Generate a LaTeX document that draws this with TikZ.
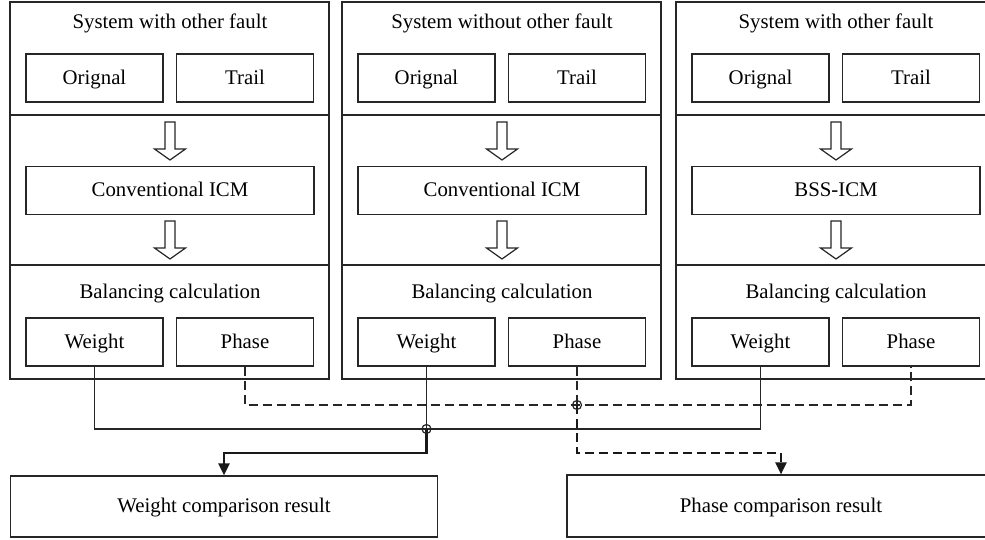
\documentclass[tikz,border=0pt]{standalone}
\usepackage{fontspec}
\setmainfont{Liberation Serif}
\usetikzlibrary{arrows.meta, positioning}

\tikzset{
  hollowdown/.pic = {
    \draw[line width=0.6pt, draw=black!85, fill=white]
      (-5,0) -- (-5,27) -- (-15.5,27) -- (0,38) -- (15.5,27) -- (5,27) -- (5,0) -- cycle;
  }
}

\begin{document}
\begin{tikzpicture}[
  x=0.5pt, y=-0.5pt,
  font=\fontsize{10.4}{12}\selectfont,
  frame/.style = {draw=black!85, line width=0.7pt},
  box/.style = {rectangle, draw=black!85, line width=0.6pt,
                minimum width=68.5pt, minimum height=24pt, inner sep=0pt,
                text height=8pt, text depth=1.6pt},
  heading/.style = {inner sep=0pt, text height=8pt, text depth=1.6pt},
  wire/.style = {draw=black!85, line width=0.6pt},
  dashwire/.style = {wire, dash pattern=on 4.5pt off 2.5pt},
  junction/.style = {circle, draw=black!85, line width=0.6pt,
                     inner sep=0pt, minimum size=4.5pt},
  result/.style = {draw=black!90, line width=1.1pt,
                   -{Triangle[length=6pt, width=5.5pt]}},
  dashresult/.style = {result, dash pattern=on 4.5pt off 2.5pt},
]
\useasboundingbox (0,0) rectangle (985,540);
\clip (0,0) rectangle (985,540);

% three test systems
\foreach \L/\n/\title/\method in {10/A/System with other fault/Conventional ICM,
                                  342/B/System without other fault/Conventional ICM,
                                  676/C/System with other fault/BSS-ICM}{
  \draw[frame] (\L,2) rectangle (\L+319,379);
  \draw[frame] (\L,115) -- (\L+319,115);
  \draw[frame] (\L,265) -- (\L+319,265);
  \node[heading] (title\n) at (\L+160,22) {\title};
  \node[box] (org\n)   at (\L+84.5,78) {Orignal};
  \node[box] (trail\n) at (\L+235,78)  {Trail};
  \pic at (\L+160,122) {hollowdown};
  \node[box, minimum width=144pt] (icm\n) at (\L+160,190.5) {\method};
  \pic at (\L+160,221) {hollowdown};
  \node[heading] (bal\n) at (\L+160,292) {Balancing calculation};
  \node[box] (weight\n) at (\L+84.5,342) {Weight};
  \node[box] (phase\n)  at (\L+235,342)  {Phase};
}

% comparison results
\node[box, minimum width=213.5pt, minimum height=30.5pt] (wres) at (224,506.5) {Weight comparison result};
\node[box, minimum width=214pt, minimum height=31pt] (pres) at (781,506) {Phase comparison result};

\coordinate (solidY) at (0,429);
\coordinate (dashY)  at (0,405);

\draw[wire] (weightA.south) |- (solidY -| weightC.south) -- (weightC.south);
\draw[wire] (weightB.south) -- (weightB.south |- solidY) coordinate (jw);
\draw[dashwire] (phaseA.south) |- (dashY -| phaseC.south) -- (phaseC.south);
\draw[dashwire] (phaseB.south) -- (phaseB.south |- dashY) coordinate (jp);

\draw[result] (jw) -- ++(0,24) -| (wres.north);
\draw[dashresult] (jp) -- ++(0,48) -| (pres.north);

\node[junction] (jwdot) at (jw) {};
\node[junction] (jpdot) at (jp) {};

\end{tikzpicture}
\end{document}
